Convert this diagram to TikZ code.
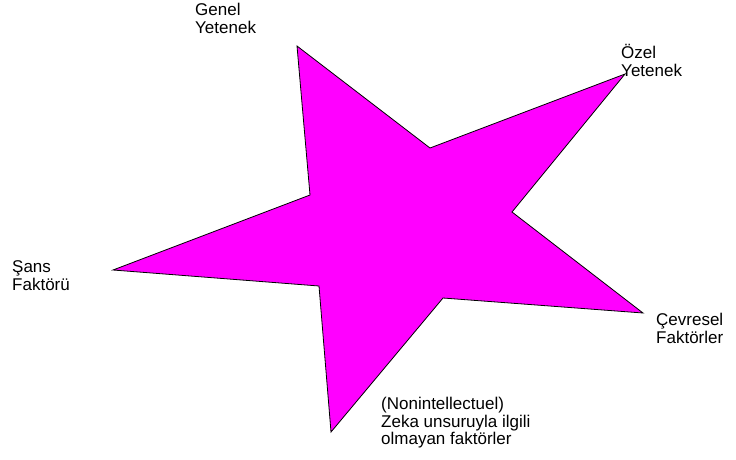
\documentclass[tikz,border=0pt]{standalone}
\usepackage{fontspec}
\setmainfont{Liberation Sans}
\usepackage{tikz}
\definecolor{starpink}{RGB}{255,0,255}

\begin{document}
\begin{tikzpicture}[x=1pt,y=-1pt,
  lbl/.style={anchor=north west,inner sep=0pt,align=left,
              font=\fontsize{17}{16.5}\selectfont}]
  \useasboundingbox (0,0) rectangle (736,459);
  % Star outline: tips and inner corners, in pixel units.
  \foreach \n/\x/\y in {t1/297/46,i1/430/148,t2/625/74,i2/512/212,
                        t3/643/313,i3/443/298,t4/331/432,i4/319/286,
                        t5/113/270,i5/310/195}
    \coordinate (\n) at (\x,\y);
  \filldraw[fill=starpink,draw=black,line width=0.8pt,line join=miter]
    (t1)--(i1)--(t2)--(i2)--(t3)--(i3)--(t4)--(i4)--(t5)--(i5)--cycle;

  % Labels beside the tips.
  \node[lbl] (genel) at (195,3) {\strut Genel\\Yetenek};
  \node[lbl] (ozel) at (621,44) {\strut Özel\\Yetenek};
  \node[lbl] (sans) at (12,260.5) {\strut Şans\\Faktörü};
  \node[lbl] (cevre) at (656,312.5) {\strut Çevresel\\Faktörler};
  \node[lbl] (nonint) at (381,397)
    {\strut (Nonintellectuel)\\Zeka unsuruyla ilgili\\olmayan faktörler};
\end{tikzpicture}
\end{document}
